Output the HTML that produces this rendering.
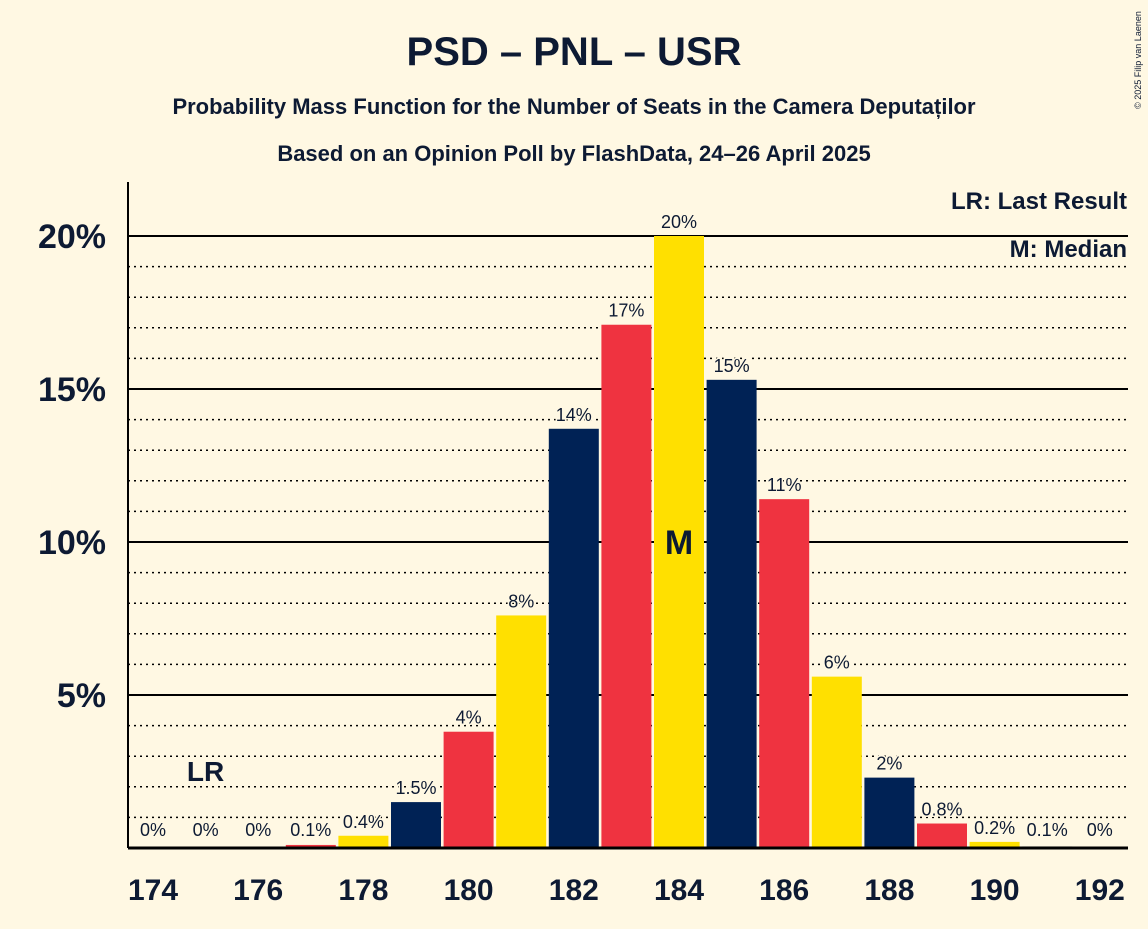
<!DOCTYPE html>
<html><head><meta charset="utf-8"><style>
body{margin:0;background:#fff8e3;font-family:"Liberation Sans",sans-serif;}
svg text{font-family:"Liberation Sans",sans-serif;fill:#0d1a33;}
</style></head><body>
<svg width="1148" height="924">
<rect width="1148" height="924" fill="#fff8e3"/>
<text x="574" y="65" text-anchor="middle" font-size="40" font-weight="bold">PSD – PNL – USR</text>
<text x="574" y="114" text-anchor="middle" font-size="22" font-weight="bold">Probability Mass Function for the Number of Seats in the Camera Deputaților</text>
<text x="574" y="161" text-anchor="middle" font-size="22" font-weight="bold">Based on an Opinion Poll by FlashData, 24–26 April 2025</text>
<text x="1141" y="60" font-size="9" transform="rotate(-90 1141 60)" text-anchor="middle">© 2025 Filip van Laenen</text>
<g id="grid"></g>
<g id="bars"></g>
<line x1="128" y1="182" x2="128" y2="848" stroke="#000" stroke-width="2"/>
<line x1="128" y1="848" x2="1128" y2="848" stroke="#000" stroke-width="3"/>
<text x="1127" y="209" text-anchor="end" font-size="24" font-weight="bold">LR: Last Result</text>
<text x="1127" y="257" text-anchor="end" font-size="24" font-weight="bold">M: Median</text>
</svg>
<script>
const seats=[174,175,176,177,178,179,180,181,182,183,184,185,186,187,188,189,190,191,192];
const probs=[0,0,0,0.1,0.4,1.5,3.8,7.6,13.7,17.1,20,15.3,11.4,5.6,2.3,0.8,0.2,0.05,0];
const labels=["0%","0%","0%","0.1%","0.4%","1.5%","4%","8%","14%","17%","20%","15%","11%","6%","2%","0.8%","0.2%","0.1%","0%"];
const yTicks=[5,10,15,20];
const xTicks=[174,176,178,180,182,184,186,188,190,192];
const lastResult=175, median=184;
const ns="http://www.w3.org/2000/svg";
const X=s=>153+(s-174)*52.6, Y=v=>848-v*30.6;
const colors=["#002255","#ef3340","#ffe000"];
const grid=document.getElementById('grid'), bars=document.getElementById('bars');
function mk(tag,a,p){const e=document.createElementNS(ns,tag);for(const k in a)e.setAttribute(k,a[k]);p.appendChild(e);return e;}
for(let v=1;v<=20;v++){
  const major=v%5===0;
  const l=mk('line',{x1:128,x2:1128,y1:Y(v),y2:Y(v),stroke:'#000','stroke-width':major?2:1.5,'stroke-dasharray':major?'':'2,4'},grid);
  
  
}
yTicks.forEach(v=>{
  const t=mk('text',{x:106,y:Y(v)+12,'text-anchor':'end','font-size':34,'font-weight':'bold'},grid);
  t.textContent=v+'%';
  
  
});
xTicks.forEach(s=>{
  const t=mk('text',{x:X(s),y:900,'text-anchor':'middle','font-size':30,'font-weight':'bold'},grid);
  t.textContent=s;
  
  
});
seats.forEach((s,i)=>{
  const v=probs[i];
  if(v>0){
    const r=mk('rect',{x:X(s)-25,y:Y(v),width:50,height:848-Y(v),fill:colors[((s-179)%3+3)%3]},bars);
    
    
  }
  const t=mk('text',{x:X(s),y:Math.min(Y(v),848)-8,'text-anchor':'middle','font-size':18,stroke:'#fff8e3','stroke-width':3,'paint-order':'stroke'},bars);
  if(v<0.3) t.setAttribute('y',Math.min(836,Y(v)-8));
  t.textContent=labels[i];
  
  
});
const lr=mk('text',{x:X(lastResult),y:781,'text-anchor':'middle','font-size':28,'font-weight':'bold'},bars);
lr.textContent='LR';


const mi=seats.indexOf(median);
const m=mk('text',{x:X(median),y:(Y(probs[mi])+848)/2+12,'text-anchor':'middle','font-size':34,'font-weight':'bold',fill:'#fff'},bars);
m.textContent='M';


</script>
</body></html>
